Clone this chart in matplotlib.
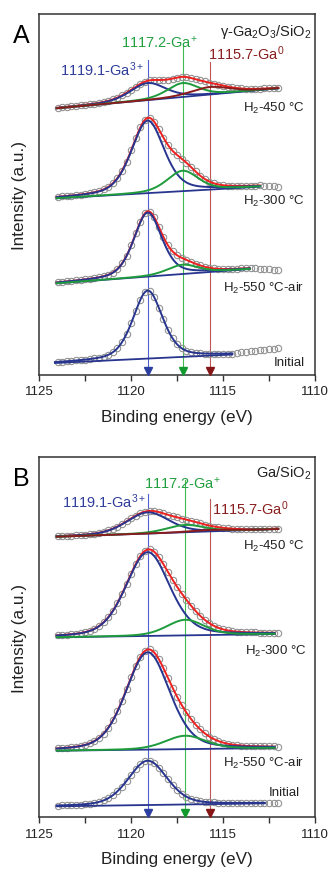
import numpy as np
import matplotlib.pyplot as plt
from matplotlib.ticker import MultipleLocator

# Arial-like look
plt.rcParams['font.family'] = 'Liberation Sans'
plt.rcParams['mathtext.fontset'] = 'custom'
plt.rcParams['mathtext.rm'] = 'Liberation Sans'
plt.rcParams['mathtext.it'] = 'Liberation Sans:italic'
plt.rcParams['mathtext.bf'] = 'Liberation Sans:bold'

# measurement grid (eV), 0.25 eV steps from 1124 down to 1112
energy = np.arange(1124.0, 1111.9, -0.25)

# ---- measured points (intensity, a.u., offset stacked) ----
a_initial = [13.1, 13.4, 13.7, 14.2, 14.6, 15.0, 15.4, 15.8, 16.6, 17.4,
             18.5, 20.1, 22.7, 26.7, 32.8, 41.2, 51.8, 63.8, 75.2, 82.7,
             83.9, 77.7, 67.2, 55.7, 45.0, 36.6, 30.7, 26.8, 24.3, 22.8,
             22.1, 21.6, 21.5, 21.3, 21.3, 21.3, 21.3, 21.4, 21.5, 22.0,
             22.6, 23.1, 23.6, 24.1, 24.6, 25.1, 25.6, 26.2, 26.7]
a_air = [92.7, 93.1, 93.6, 94.1, 94.6, 95.1, 95.6, 96.2, 97.0, 97.9,
         98.9, 100.3, 102.5, 106.1, 111.6, 119.4, 129.6, 141.7, 153.4, 161.8,
         163.5, 157.8, 148.4, 138.2, 129.7, 123.6, 119.6, 117.3, 115.1, 113.2,
         111.4, 109.6, 108.3, 107.2, 106.6, 106.2, 106.0, 106.0, 106.2, 106.4,
         106.6, 106.8, 107.1, 106.8, 106.5, 106.2, 105.9, 105.5, 105.2]
a_300 = [178.3, 178.6, 179.1, 179.4, 180.0, 180.5, 181.1, 181.9, 182.8, 183.9,
         185.6, 188.2, 191.7, 196.9, 204.3, 213.5, 224.7, 236.6, 247.7, 255.2,
         257.2, 253.2, 245.8, 237.5, 229.9, 224.3, 220.0, 216.4, 212.4, 208.0,
         203.6, 199.5, 196.1, 193.5, 191.8, 190.5, 189.8, 189.4, 189.3, 189.3,
         189.3, 189.3, 189.4, 189.5, 189.7, 189.3, 189.0, 188.6, 188.3]
a_450 = [267.4, 267.8, 268.2, 268.7, 269.2, 269.8, 270.3, 270.9, 271.4, 272.3,
         273.1, 274.2, 275.8, 277.5, 279.7, 282.4, 285.3, 288.3, 291.2, 293.4,
         294.7, 295.1, 295.1, 295.0, 295.5, 296.5, 297.5, 298.2, 298.1, 297.1,
         295.8, 294.6, 293.6, 292.5, 291.4, 290.5, 289.3, 288.5, 287.6, 287.1,
         286.6, 286.3, 286.2, 286.1, 286.4, 286.7, 286.8, 287.1, 287.4]
b_initial = [11.8, 12.0, 12.1, 12.3, 12.6, 12.8, 13.2, 13.6, 14.3, 15.5,
             16.9, 19.1, 22.1, 26.0, 30.8, 36.5, 42.5, 48.3, 53.1, 56.1,
             56.4, 54.0, 49.7, 44.1, 38.2, 32.6, 27.7, 23.8, 20.8, 18.5,
             17.1, 16.2, 15.4, 15.1, 14.9, 14.6, 14.6, 14.6, 14.5, 14.5,
             14.5, 14.5, 14.5, 14.6, 14.5, 14.6, 14.5, 14.4, 14.3]
b_air = [68.9, 69.2, 69.5, 70.1, 70.7, 71.5, 72.5, 74.0, 76.4, 79.5,
         83.8, 89.7, 96.9, 106.2, 116.7, 128.2, 140.2, 151.4, 160.6, 166.4,
         167.9, 164.7, 158.2, 149.2, 139.5, 129.8, 120.5, 112.2, 105.0, 98.5,
         92.7, 88.0, 84.0, 80.7, 78.3, 76.3, 74.7, 73.6, 72.8, 72.3,
         71.8, 71.6, 71.4, 71.3, 71.1, 71.1, 71.0, 70.9, 70.7]
b_300 = [182.0, 182.3, 182.5, 183.1, 183.7, 184.3, 185.2, 186.6, 188.7, 191.3,
         195.1, 200.2, 206.3, 214.3, 223.4, 233.4, 243.7, 253.4, 261.3, 266.5,
         268.0, 265.5, 260.2, 253.1, 245.3, 237.6, 230.4, 223.7, 217.6, 211.7,
         206.4, 201.7, 197.4, 194.1, 191.5, 189.4, 188.0, 186.9, 186.1, 185.7,
         185.3, 185.1, 185.0, 184.9, 184.8, 184.7, 184.6, 184.4, 184.0]
b_450 = [281.1, 281.3, 281.5, 281.7, 281.9, 282.3, 282.7, 283.0, 283.8, 284.5,
         285.6, 287.0, 288.6, 290.8, 293.2, 295.9, 298.9, 301.6, 304.0, 305.7,
         306.4, 306.2, 305.2, 304.0, 302.5, 301.2, 299.9, 298.6, 297.7, 296.4,
         295.2, 294.1, 292.7, 291.8, 290.8, 290.2, 289.5, 289.0, 288.6, 288.4,
         288.3, 288.3, 288.2, 288.3, 288.3, 288.3, 288.5, 288.6, 288.7]

# ---- fit: linear background (E0, I0, E1, I1) and peaks (centre, height, FWHM)
# peak order: Ga3+ (blue), Ga+ (green), Ga0 (brown)
a_initial_bg = [1124.15, 12.0, 1114.5, 20.5]
a_initial_fit = [[1119.1, 68.0, 1.9]]
a_air_bg = [1124.05, 91.7, 1113.55, 106.0]
a_air_fit = [[1119.1, 64.0, 1.8], [1117.2, 9.3, 2.0]]
a_300_bg = [1124.05, 176.7, 1113.0, 188.3]
a_300_fit = [[1119.1, 72.5, 2.1], [1117.2, 20.4, 2.0]]
a_450_bg = [1124.05, 266.7, 1112.0, 286.7]
a_450_fit = [[1119.1, 17.1, 2.3], [1117.2, 13.9, 2.0], [1115.7, 7.5, 2.5]]

b_initial_bg = [1124.05, 11.0, 1112.73, 14.0]
b_initial_fit = [[1119.1, 44.3, 2.5]]
b_air_bg = [1124.05, 66.6, 1112.2, 69.3]
b_air_fit = [[1119.1, 97.3, 2.8], [1117.05, 13.4, 2.6]]
b_300_bg = [1124.05, 180.0, 1112.2, 183.3]
b_300_fit = [[1119.1, 83.8, 2.8], [1117.05, 15.6, 2.4]]
b_450_bg = [1124.05, 280.6, 1112.0, 288.3]
b_450_fit = [[1119.1, 21.2, 2.7], [1117.05, 7.3, 2.4], [1115.7, 1.5, 2.5]]

# reference positions (eV) and labels
ref_a = [1119.1, 1117.2, 1115.7]
ref_b = [1119.1, 1117.05, 1115.7]
ref_labels = ['1119.1-Ga$^{3+}$', '1117.2-Ga$^{+}$', '1115.7-Ga$^{0}$']
spec_labels = ['H$_2$-450 °C', 'H$_2$-300 °C', 'H$_2$-550 °C-air', 'Initial']

BLUE = '#27358f'
GREEN = '#1e9b3c'
RED = '#ee2020'
BROWN = '#8b1c1c'
comp_colors = [BLUE, GREEN, BROWN]
vline_colors = ['#5060d0', '#40bb50', '#c05555']
arrow_colors = ['#2c3ea0', '#139a2f', '#861515']
text_colors = ['#2f3d9c', '#22a040', '#8b1e1e']


def pvoigt(x, c, h, w, eta):
    u = (x - c) / w
    g = np.exp(-4 * np.log(2) * u ** 2)
    l = 1.0 / (1 + 4 * u ** 2)
    return h * (eta * l + (1 - eta) * g)


def draw_spectrum(ax, data, bg, fit, eta):
    ax.plot(energy, data, 'o', ms=4.6, mfc='none', mec='#8e8e8e', mew=0.75, zorder=2)
    x = np.linspace(bg[0], bg[2], 400)
    base = bg[1] + (bg[3] - bg[1]) * (x - bg[0]) / (bg[2] - bg[0])
    comps = [pvoigt(x, c, h, w, eta) for c, h, w in fit]
    ax.plot(x, base, color=BLUE, lw=1.3, zorder=3)
    if len(comps) > 1:
        ax.plot(x, base + np.sum(comps, axis=0), color=RED, lw=1.4, zorder=4)
    for comp, col in zip(comps, comp_colors):
        ax.plot(x, base + comp, color=col, lw=1.4, zorder=5)


def style_axes(ax, ytop):
    ax.set_xlim(1125, 1110)
    ax.set_ylim(0, ytop)
    ax.set_yticks([])
    ax.xaxis.set_major_locator(MultipleLocator(5))
    ax.xaxis.set_minor_locator(MultipleLocator(2.5))
    ax.tick_params(axis='x', which='major', direction='out', length=4.5, width=1,
                   labelsize=9.5, pad=3, colors='#333333', labelcolor='#222222')
    ax.tick_params(axis='x', which='minor', direction='out', length=4, width=1,
                   colors='#333333')
    for sp in ax.spines.values():
        sp.set_color('#333333')
        sp.set_linewidth(1.1)
    ax.set_xlabel('Binding energy (eV)', fontsize=12.3, color='#222222')
    ax.xaxis.set_label_coords(0.5, -0.093)
    ax.set_ylabel('Intensity (a.u.)', fontsize=12.3, color='#222222')
    ax.yaxis.set_label_coords(-0.045, 0.5)


fig = plt.figure(figsize=(3.31, 8.70), dpi=100)
ax_a = fig.add_axes([0.1187, 0.5678, 0.8329, 0.4149])
ax_b = fig.add_axes([0.1187, 0.0594, 0.8329, 0.4138])

# panel A
for data, bg, fit in [(a_initial, a_initial_bg, a_initial_fit), (a_air, a_air_bg, a_air_fit),
                      (a_300, a_300_bg, a_300_fit), (a_450, a_450_bg, a_450_fit)]:
    draw_spectrum(ax_a, data, bg, fit, 0.4)
# panel B
for data, bg, fit in [(b_initial, b_initial_bg, b_initial_fit), (b_air, b_air_bg, b_air_fit),
                      (b_300, b_300_bg, b_300_fit), (b_450, b_450_bg, b_450_fit)]:
    draw_spectrum(ax_b, data, bg, fit, 0.3)

style_axes(ax_a, 361)
style_axes(ax_b, 360)

# reference lines with arrow heads
vtop_a = [315, 329, 313]
vtop_b = [323, 337, 318]
for ax, refs, tops in [(ax_a, ref_a, vtop_a), (ax_b, ref_b, vtop_b)]:
    for e, top, lc, ac in zip(refs, tops, vline_colors, arrow_colors):
        ax.plot([e, e], [0, top], color=lc, lw=0.8, zorder=1)
        ax.plot(e, 4.5, marker='v', ms=5.5, color=ac, mec=ac, zorder=6, clip_on=False)

# peak labels
lab_pos_a = [(1123.875, 306), (1120.58, 333), (1115.83, 322.7)]
lab_pos_b = [(1123.78, 316.6), (1119.31, 335), (1115.6, 310)]
for ax, pos in [(ax_a, lab_pos_a), (ax_b, lab_pos_b)]:
    for (x, y), txt, col in zip(pos, ref_labels, text_colors):
        ax.text(x, y, txt, color=col, fontsize=10.5, ha='left', va='center')

ax_a.text(1110.19, 344.3, 'γ-Ga$_2$O$_3$/SiO$_2$', fontsize=10.5, ha='right', va='center',
          color='#222222')
ax_b.text(1110.19, 345.3, 'Ga/SiO$_2$', fontsize=10.5, ha='right', va='center',
          color='#222222')

spec_pos_a = [(1110.56, 267.7), (1110.56, 174.3), (1110.56, 87.7), (1110.56, 12.7)]
spec_pos_b = [(1110.56, 272.3), (1110.47, 166.6), (1110.56, 55), (1110.83, 25)]
for ax, pos in [(ax_a, spec_pos_a), (ax_b, spec_pos_b)]:
    for (x, y), txt in zip(pos, spec_labels):
        ax.text(x, y, txt, fontsize=9.5, ha='right', va='center', color='#222222')

fig.text(21 / 331, 1 - 36 / 870, 'A', fontsize=18, ha='center', va='center')
fig.text(21 / 331, 1 - 478.5 / 870, 'B', fontsize=18, ha='center', va='center')

fig.savefig('out.png', dpi=100)
